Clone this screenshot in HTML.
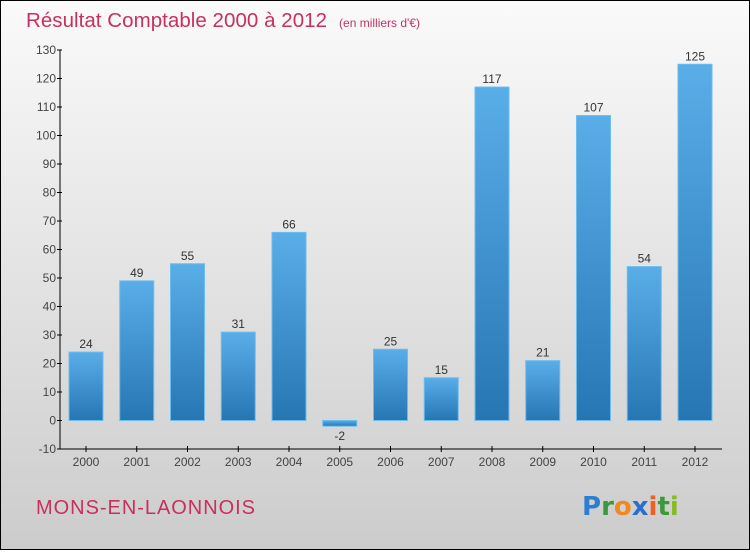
<!DOCTYPE html>
<html><head><meta charset="utf-8"><style>
body{margin:0;width:750px;height:550px;overflow:hidden;font-family:"Liberation Sans",sans-serif}
</style></head><body>
<svg width="750" height="550" xmlns="http://www.w3.org/2000/svg">
<defs>
<linearGradient id="bg" x1="0" y1="0" x2="0" y2="1"><stop offset="0" stop-color="#fafafa"/><stop offset="1" stop-color="#cccccc"/></linearGradient>
<linearGradient id="bar" x1="0" y1="0" x2="0" y2="1"><stop offset="0" stop-color="#5aaee8"/><stop offset="1" stop-color="#2676b4"/></linearGradient>
</defs>
<rect x="0.5" y="0.5" width="749" height="549" fill="url(#bg)" stroke="#000"/>
<text x="26" y="27" font-size="20.5" fill="#c8305e"><tspan textLength="301">Résultat Comptable 2000 à 2012</tspan><tspan font-size="12" dx="12">(en milliers d'€)</tspan></text>
<g id="yaxis"></g>
<g id="xaxis"></g>
<g id="bars"></g>
<text x="36" y="514" font-size="20" fill="#c8305e" textLength="219">MONS-EN-LAONNOIS</text>
<text x="582" y="515" font-size="26" font-family="DejaVu Sans" font-weight="bold"><tspan fill="#2a7fd0">P</tspan><tspan fill="#3a9a3a">r</tspan><tspan fill="#f08a20">o</tspan><tspan fill="#2a6fd0">x</tspan><tspan fill="#f06020">i</tspan><tspan fill="#3a9a3a">t</tspan><tspan fill="#88bb22">i</tspan></text>
</svg>
<script>
const categories=["2000","2001","2002","2003","2004","2005","2006","2007","2008","2009","2010","2011","2012"];
const values=[24,49,55,31,66,-2,25,15,117,21,107,54,125];
const yTicks=[-10,0,10,20,30,40,50,60,70,80,90,100,110,120,130];
const NS="http://www.w3.org/2000/svg";
const y=v=>420.5-v*2.85;
const x=i=>86+i*50.75;
function mk(t,a,p,txt){const e=document.createElementNS(NS,t);for(const k in a)e.setAttribute(k,a[k]);if(txt!==undefined)e.textContent=txt;p.appendChild(e);return e;}
const ya=document.getElementById('yaxis'),xa=document.getElementById('xaxis'),bs=document.getElementById('bars');
mk('line',{x1:60,y1:y(130),x2:60,y2:y(-10),stroke:'#000'},ya);
yTicks.forEach(t=>{mk('line',{x1:57,y1:y(t),x2:62,y2:y(t),stroke:'#000'},ya);
const l=mk('text',{x:56,y:y(t)+4,'font-size':12,fill:'#444','text-anchor':'end'},ya,String(t));

});
mk('line',{x1:60,y1:y(-10),x2:722,y2:y(-10),stroke:'#000'},xa);
categories.forEach((c,i)=>{mk('line',{x1:x(i),y1:y(-10)-3,x2:x(i),y2:y(-10)+3,stroke:'#000'},xa);
const l=mk('text',{x:x(i),y:466,'font-size':12,fill:'#444','text-anchor':'middle'},xa,c);


const v=values[i],top=Math.min(y(v),y(0)),h=Math.abs(y(v)-y(0));
const r=mk('rect',{x:x(i)-17,y:top,width:34,height:Math.max(h,1),fill:'url(#bar)',stroke:'#6bbcef','stroke-width':1},bs);


const ly=v>=0?y(v)-4:y(v)+14;
const t=mk('text',{x:x(i),y:ly,'font-size':12,fill:'#333','text-anchor':'middle'},bs,String(v));

});
</script>
</body></html>
